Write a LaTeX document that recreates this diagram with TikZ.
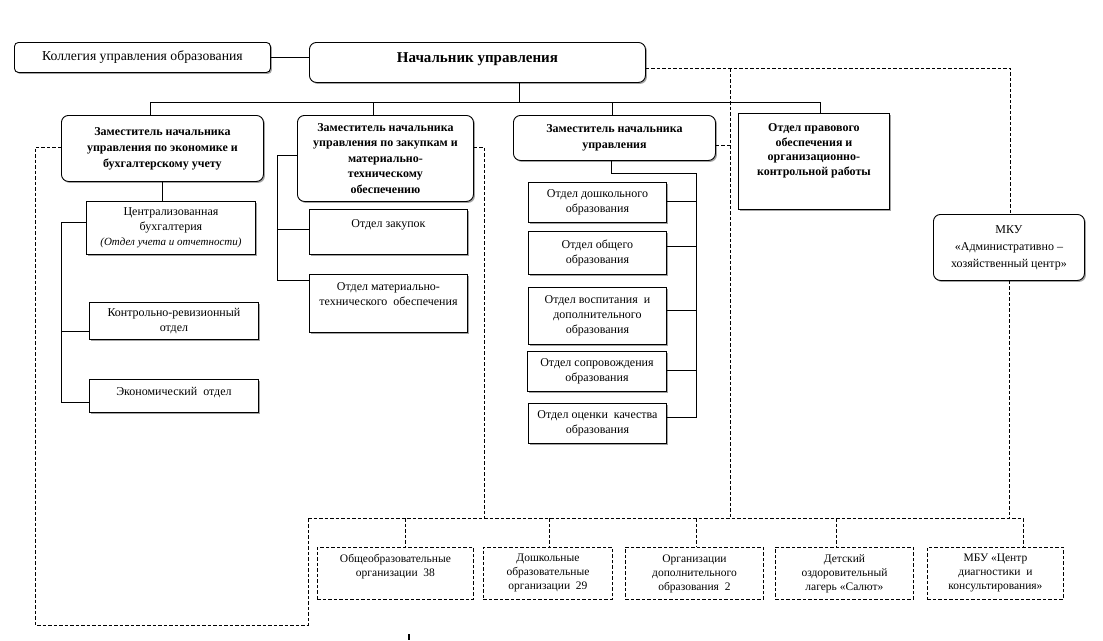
\documentclass[tikz,border=0pt]{standalone}
\usepackage{fontspec}
\setmainfont{Liberation Serif}
\usetikzlibrary{shadows}
\newcommand\upd[1]{\rule[-#1]{0pt}{#1}}
\tikzset{
  box/.style={draw, line width=0.9pt, fill=white, align=center, inner sep=0pt, anchor=north west,
    font=\fontsize{12}{15}\selectfont,
    drop shadow={shadow xshift=1.5pt, shadow yshift=-1.5pt, opacity=0.45, fill=black!80}},
  rbox/.style={box, rounded corners=7pt},
  bbox/.style={rbox, font=\fontsize{12}{16}\selectfont\bfseries},
  dbox/.style={draw, line width=0.9pt, dash pattern=on 3.5pt off 2pt, align=center, inner sep=0pt,
    anchor=north west, font=\fontsize{11.5}{14}\selectfont},
  link/.style={line width=0.9pt},
  dlink/.style={line width=0.9pt, dash pattern=on 3.5pt off 2pt}
}
\begin{document}
\begin{tikzpicture}[x=1pt,y=-1pt]
\useasboundingbox (0,0) rectangle (1103,640);

% top row
\node[rbox, rounded corners=4pt, minimum width=256pt, minimum height=30pt, font=\fontsize{13.7}{16}\selectfont] (koll) at (14,42) {Коллегия управления образования};
\node[rbox, minimum width=336pt, minimum height=40pt, font=\fontsize{15}{18}\selectfont\bfseries] (chief) at (309,42) {Начальник управления\upd{10pt}};

% deputies
\node[bbox, minimum width=202pt, minimum height=66pt] (dep1) at (61,115) {Заместитель начальника\\управления по экономике и\\бухгалтерскому учету};
\node[bbox, minimum width=176pt, minimum height=86pt, font=\fontsize{12}{15.5}\selectfont\bfseries] (dep2) at (297,115) {Заместитель начальника\\управления по закупкам и\\материально-\\техническому\\обеспечению};
\node[bbox, minimum width=202pt, minimum height=45pt] (dep3) at (513,115) {Заместитель начальника\\управления};
\node[box, minimum width=151pt, minimum height=96pt, font=\fontsize{12}{14.5}\selectfont\bfseries] (legal) at (738,113) {Отдел правового\\обеспечения и\\организационно-\\контрольной работы\upd{24pt}};
\node[rbox, minimum width=151pt, minimum height=66pt, font=\fontsize{12}{17}\selectfont] (mku) at (933,214) {МКУ\\«Административно –\\хозяйственный центр»};

% deputy 1 departments
\node[box, minimum width=169pt, minimum height=53pt] (cent) at (86,201) {Централизованная\\бухгалтерия\\{\fontsize{11}{14}\selectfont\itshape (Отдел учета и отчетности)}};
\node[box, minimum width=169pt, minimum height=37pt] (kontr) at (89,302) {Контрольно-ревизионный\\отдел};
\node[box, minimum width=169pt, minimum height=33pt] (ekon) at (89,379) {Экономический\ \ отдел\upd{9pt}};

% deputy 2 departments
\node[box, minimum width=158pt, minimum height=45pt] (zak) at (309,209) {Отдел закупок\upd{17pt}};
\node[box, minimum width=158pt, minimum height=58pt] (mat) at (309,274) {Отдел материально-\\технического\ \ обеспечения\upd{18pt}};

% deputy 3 departments
\node[box, minimum width=138pt, minimum height=40pt] (d1) at (528,182) {Отдел дошкольного\\образования};
\node[box, minimum width=138pt, minimum height=43pt] (d2) at (528,231) {Отдел общего\\образования};
\node[box, minimum width=138pt, minimum height=57pt] (d3) at (528,287) {Отдел воспитания\ \ и\\дополнительного\\образования};
\node[box, minimum width=139pt, minimum height=40pt] (d4) at (527,351) {Отдел сопровождения\\образования};
\node[box, minimum width=138pt, minimum height=40pt] (d5) at (528,403) {Отдел оценки\ \ качества\\образования};

% bottom organisations
\node[dbox, minimum width=156pt, minimum height=52pt] (o1) at (317,547) {Общеобразовательные\\организации\ \ 38\upd{16pt}};
\node[dbox, minimum width=129pt, minimum height=52pt] (o2) at (483,547) {Дошкольные\\образовательные\\организации\ \ 29};
\node[dbox, minimum width=138pt, minimum height=52pt] (o3) at (625,547) {Организации\\дополнительного\\образования\ \ 2};
\node[dbox, minimum width=138pt, minimum height=52pt] (o4) at (775,547) {Детский\\оздоровительный\\лагерь «Салют»};
\node[dbox, minimum width=136pt, minimum height=52pt] (o5) at (927,547) {МБУ «Центр\\диагностики\ \ и\\консультирования»};

% solid connectors
\draw[link] (koll.east) -- (koll.east -| chief.west);
\coordinate (cb) at (519,102);
\coordinate (busL) at (150,102);
\coordinate (busR) at (820,102);
\coordinate (b2) at (373,102);
\coordinate (b3) at (612,102);
\draw[link] (cb |- chief.south) -- (cb);
\draw[link] (busL) -- (busR);
\draw[link] (busL) -- (busL |- dep1.north);
\draw[link] (b2) -- (b2 |- dep2.north);
\draw[link] (b3) -- (b3 |- dep3.north);
\draw[link] (busR) -- (busR |- legal.north);

\draw[link] (dep1.south) -- (dep1.south |- cent.north);
\coordinate (t1a) at (61,222);
\coordinate (t1k) at (61,331);
\coordinate (t1b) at (61,402);
\draw[link] (t1a -| cent.west) -- (t1a) -- (t1b) -- (t1b -| ekon.west);
\draw[link] (t1k) -- (t1k -| kontr.west);

\coordinate (t2a) at (277,155);
\coordinate (t2z) at (277,229);
\coordinate (t2b) at (277,280);
\draw[link] (t2a -| dep2.west) -- (t2a) -- (t2b) -- (t2b -| mat.west);
\draw[link] (t2z) -- (t2z -| zak.west);

\coordinate (t3a) at (611,173);
\coordinate (t3b) at (696,173);
\coordinate (t3c) at (696,417);
\coordinate (t31) at (696,201);
\coordinate (t32) at (696,246);
\coordinate (t33) at (696,310);
\coordinate (t34) at (696,370);
\draw[link] (t3a |- dep3.south) -- (t3a) -- (t3b) -- (t3c) -- (t3c -| d5.east);
\draw[link] (t31) -- (t31 -| d1.east);
\draw[link] (t32) -- (t32 -| d2.east);
\draw[link] (t33) -- (t33 -| d3.east);
\draw[link] (t34) -- (t34 -| d4.east);

% dashed connectors
\coordinate (n1) at (1010,68);
\coordinate (v1) at (730,68);
\coordinate (bus2L) at (308,518);
\coordinate (bus2R) at (1023,518);
\draw[dlink] (n1 -| chief.east) -- (n1) -- (n1 |- mku.north);
\draw[dlink] (v1) -- (v1 |- bus2L);
\coordinate (q3) at (730,145);
\draw[dlink] (q3 -| dep3.east) -- (q3);
\draw[dlink] (mku.south) -- (mku.south |- bus2L);
\coordinate (q2) at (484,147);
\draw[dlink] (q2 -| dep2.east) -- (q2) -- (q2 |- bus2L);
\coordinate (q1) at (35,147);
\coordinate (q1b) at (35,625);
\draw[dlink] (q1 -| dep1.west) -- (q1) -- (q1b) -- (q1b -| bus2L) -- (bus2L);
\draw[dlink] (bus2L) -- (bus2R);
\coordinate (e1) at (405,518);
\coordinate (e2) at (549,518);
\coordinate (e3) at (696,518);
\coordinate (e4) at (836,518);
\draw[dlink] (e1) -- (e1 |- o1.north);
\draw[dlink] (e2) -- (e2 |- o2.north);
\draw[dlink] (e3) -- (e3 |- o3.north);
\draw[dlink] (e4) -- (e4 |- o4.north);
\draw[dlink] (bus2R) -- (bus2R |- o5.north);

% stray mark at bottom
\draw[line width=1.6pt] (409,634) -- (409,640);
\end{tikzpicture}
\end{document}
